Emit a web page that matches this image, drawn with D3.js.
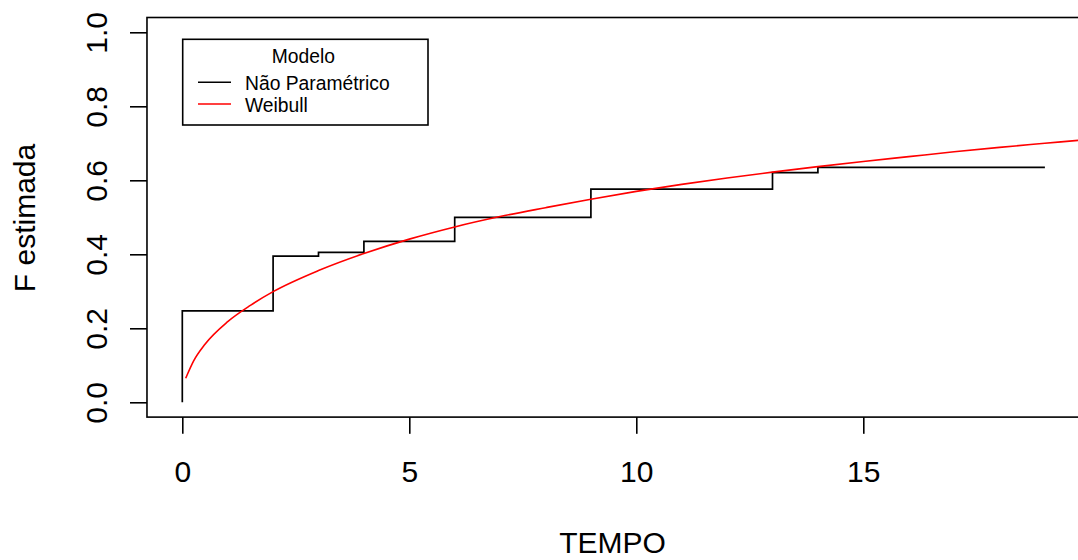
<!DOCTYPE html>
<html>
<head>
<meta charset="utf-8">
<script src="https://cdn.jsdelivr.net/npm/d3@7/dist/d3.min.js"></script>
<style>
  html, body { margin: 0; padding: 0; background: #fff; overflow: hidden; }
  svg { display: block; }
  text { font-family: "Liberation Sans", Arial, sans-serif; fill: #000; }
</style>
</head>
<body>
<svg id="chart" width="1078" height="560"></svg>
<script>
// ---- data ----
const stepTimes = [0, 0, 2, 3, 4, 6, 9, 13, 14, 19];
const stepF     = [0, 0.247, 0.395, 0.405, 0.435, 0.500, 0.576, 0.621, 0.635, 0.635];

const weibullTimes = [0.075, 0.25, 0.5, 1, 1.5, 2, 3, 4, 5, 6, 7, 8, 9, 10, 11, 12, 13, 14, 15, 16, 17, 18, 19, 20, 21];
const weibullF     = [0.065, 0.112, 0.157, 0.218, 0.262, 0.299, 0.356, 0.402, 0.441, 0.474, 0.502, 0.526, 0.549, 0.570, 0.589, 0.606, 0.622, 0.637, 0.651, 0.664, 0.677, 0.689, 0.700, 0.711, 0.721];

const xTicks = [0, 5, 10, 15];
const yTicks = [0.0, 0.2, 0.4, 0.6, 0.8, 1.0];
const yTickLabels = ["0.0", "0.2", "0.4", "0.6", "0.8", "1.0"];

const legendTitle = "Modelo";
const legendLabels = ["Não Paramétrico", "Weibull"];
const legendColors = ["#000000", "#ff0000"];

const xLabel = "TEMPO";
const yLabel = "F estimada";

// ---- layout ----
const svg = d3.select("#chart");
const x = d3.scaleLinear().domain([0, 15]).range([182.3, 863.3]);
const y = d3.scaleLinear().domain([0, 1]).range([402.3, 32.3]);
const xMin = -0.778, xMax = 20.22, yMin = -0.04, yMax = 1.04;
const plotL = x(xMin), plotR = x(xMax), plotT = y(yMax), plotB = y(yMin);

svg.append("defs").append("clipPath").attr("id", "clip")
  .append("rect").attr("x", plotL).attr("y", plotT)
  .attr("width", plotR - plotL).attr("height", plotB - plotT);

const g = svg.append("g").attr("clip-path", "url(#clip)");

// step function
const stepData = stepTimes.map((t, i) => [t, stepF[i]]);
g.append("path")
  .datum(stepData)
  .attr("fill", "none")
  .attr("stroke", "#000")
  .attr("stroke-width", 1.7)
  .attr("d", d3.line().x(d => x(d[0])).y(d => y(d[1])).curve(d3.curveStepAfter));

// weibull curve
const wData = weibullTimes.map((t, i) => [t, weibullF[i]]);
g.append("path")
  .datum(wData)
  .attr("fill", "none")
  .attr("stroke", "#ff0000")
  .attr("stroke-width", 1.6)
  .attr("d", d3.line().x(d => x(d[0])).y(d => y(d[1])).curve(d3.curveMonotoneX));

// box
svg.append("rect")
  .attr("x", plotL).attr("y", plotT)
  .attr("width", plotR - plotL).attr("height", plotB - plotT)
  .attr("fill", "none").attr("stroke", "#000").attr("stroke-width", 1.6);

// x axis
const xAxis = d3.axisBottom(x).tickValues(xTicks).tickSize(16.7).tickPadding(10).tickFormat(d3.format("d"));
const gx = svg.append("g").attr("transform", `translate(0,${plotB})`).call(xAxis);
gx.select(".domain").remove();
gx.selectAll(".tick line").attr("stroke", "#000").attr("stroke-width", 1.6);
gx.selectAll(".tick text").remove();
gx.selectAll(".tick").append("text")
  .attr("y", 64.8)
  .attr("text-anchor", "middle")
  .style("font-size", "30px")
  .text(d => d3.format("d")(d));

// y axis
const yAxis = d3.axisLeft(y).tickValues(yTicks).tickSize(17).tickFormat((d, i) => yTickLabels[i]);
const gy = svg.append("g").attr("transform", `translate(${plotL},0)`).call(yAxis);
gy.select(".domain").remove();
gy.selectAll(".tick line").attr("stroke", "#000").attr("stroke-width", 1.6);
gy.selectAll(".tick text").remove();
gy.selectAll(".tick").append("text")
  .attr("transform", `translate(${107 - plotL},0) rotate(-90)`)
  .attr("text-anchor", "middle")
  .style("font-size", "30px")
  .text((d, i) => yTickLabels[i]);

// axis labels
svg.append("text")
  .attr("x", 612.5).attr("y", 553)
  .attr("text-anchor", "middle")
  .style("font-size", "30px")
  .text(xLabel);

svg.append("text")
  .attr("transform", `translate(35,218) rotate(-90)`)
  .attr("text-anchor", "middle")
  .style("font-size", "30px")
  .text(yLabel);

// legend
const lg = svg.append("g");
lg.append("rect")
  .attr("x", 182.7).attr("y", 39.3)
  .attr("width", 428 - 182.7).attr("height", 125 - 39.3)
  .attr("fill", "#fff").attr("stroke", "#000").attr("stroke-width", 1.6);
lg.append("text")
  .attr("x", 303.3).attr("y", 63.3)
  .attr("text-anchor", "middle")
  .style("font-size", "19.3px")
  .text(legendTitle);
const rowY = [82.3, 104];
const rowBase = [90, 111.7];
legendLabels.forEach((lab, i) => {
  lg.append("line")
    .attr("x1", 198).attr("x2", 231)
    .attr("y1", rowY[i]).attr("y2", rowY[i])
    .attr("stroke", legendColors[i]).attr("stroke-width", 1.6);
  lg.append("text")
    .attr("x", 245).attr("y", rowBase[i])
    .style("font-size", "19.3px")
    .text(lab);
});
</script>
</body>
</html>
